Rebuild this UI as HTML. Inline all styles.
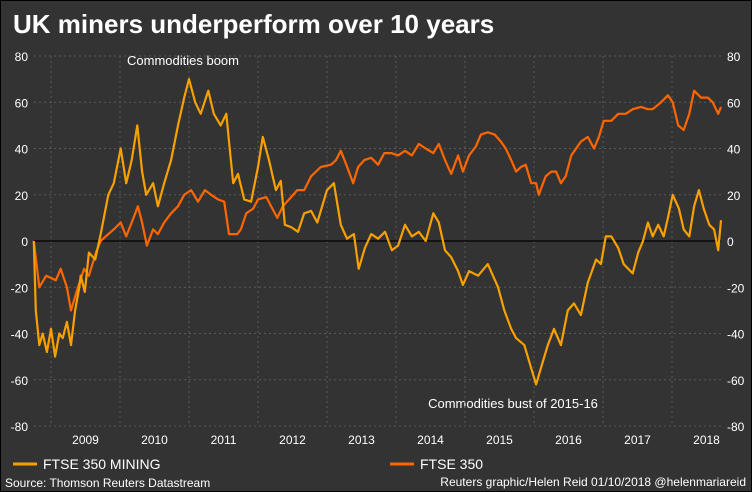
<!DOCTYPE html>
<html><head><meta charset="utf-8"><style>
body{margin:0;background:#000}
#wrap{position:relative;width:750px;height:490px;background:#333;border:1px solid #000;overflow:hidden;font-family:"Liberation Sans",sans-serif;color:#fff}
svg text{font-family:"Liberation Sans",sans-serif;fill:#fff}
</style></head><body>
<div id="wrap">
<svg id="chart" width="750" height="490">
<text x="12" y="32" font-size="26" font-weight="bold">UK miners underperform over 10 years</text>
<text x="182" y="64" font-size="13" text-anchor="middle">Commodities boom</text>
<text x="512" y="407" font-size="13" text-anchor="middle">Commodities bust of 2015-16</text>
<g id="grid"></g><g id="axes"></g><g id="series"></g>
<line x1="12" y1="463" x2="36" y2="463" stroke="#f7a000" stroke-width="3"/>
<text x="42" y="468" font-size="14">FTSE 350 MINING</text>
<line x1="389" y1="463" x2="413" y2="463" stroke="#ff6600" stroke-width="3"/>
<text x="419" y="468" font-size="14">FTSE 350</text>
<text x="4" y="486" font-size="12">Source: Thomson Reuters Datastream</text>
<text x="745" y="485" font-size="12" text-anchor="end">Reuters graphic/Helen Reid 01/10/2018 @helenmariareid</text>
</svg></div>
<script>
const yTicks=[80,60,40,20,0,-20,-40,-60,-80];
const years=[2009,2010,2011,2012,2013,2014,2015,2016,2017,2018];
const miningDates=[2008.75,2008.78,2008.83,2008.88,2008.94,2009.00,2009.06,2009.12,2009.17,2009.23,2009.29,2009.35,2009.41,2009.43,2009.49,2009.55,2009.64,2009.72,2009.83,2009.91,2010.01,2010.09,2010.17,2010.25,2010.32,2010.38,2010.48,2010.55,2010.64,2010.74,2010.84,2010.93,2011.00,2011.09,2011.17,2011.28,2011.36,2011.46,2011.54,2011.59,2011.64,2011.71,2011.80,2011.90,2012.00,2012.07,2012.16,2012.26,2012.33,2012.39,2012.48,2012.58,2012.67,2012.77,2012.86,2013.00,2013.10,2013.20,2013.29,2013.39,2013.46,2013.55,2013.64,2013.74,2013.84,2013.94,2014.03,2014.13,2014.23,2014.33,2014.43,2014.54,2014.62,2014.71,2014.80,2014.90,2014.97,2015.06,2015.19,2015.33,2015.48,2015.57,2015.67,2015.74,2015.86,2015.96,2016.03,2016.10,2016.20,2016.29,2016.39,2016.49,2016.58,2016.68,2016.78,2016.90,2016.97,2017.04,2017.12,2017.22,2017.30,2017.43,2017.51,2017.58,2017.65,2017.72,2017.80,2017.88,2017.94,2018.01,2018.10,2018.17,2018.25,2018.32,2018.39,2018.46,2018.54,2018.61,2018.67,2018.71];
const miningValues=[0,-30,-45,-40,-48,-38,-50,-40,-42,-35,-45,-30,-20,-15,-22,-5,-8,3,20,25,40,25,35,50,30,20,25,15,25,35,50,62,70,60,55,65,55,50,55,40,25,29,18,17,32,45,35,22,26,7,6,4,12,13,8,22,25,7,1,3,-12,-3,3,1,4,-4,-2,7,2,4,0,12,8,-4,-7,-13,-19,-13,-15,-10,-20,-30,-38,-42,-45,-55,-62,-55,-45,-38,-45,-30,-27,-32,-18,-8,-10,2,2,-3,-10,-14,-5,0,8,2,7,2,10,20,14,5,2,15,22,14,7,5,-4,9];
const ftseDates=[2008.75,2008.83,2008.93,2009.07,2009.14,2009.23,2009.29,2009.39,2009.48,2009.55,2009.65,2009.72,2009.83,2009.91,2010.01,2010.09,2010.17,2010.26,2010.32,2010.39,2010.48,2010.55,2010.64,2010.74,2010.84,2010.93,2011.03,2011.13,2011.23,2011.32,2011.42,2011.51,2011.58,2011.70,2011.75,2011.83,2011.93,2012.00,2012.12,2012.19,2012.28,2012.36,2012.48,2012.57,2012.67,2012.77,2012.91,2013.06,2013.13,2013.20,2013.28,2013.38,2013.45,2013.54,2013.64,2013.74,2013.83,2013.93,2014.03,2014.13,2014.23,2014.33,2014.43,2014.54,2014.62,2014.71,2014.80,2014.90,2014.97,2015.06,2015.16,2015.23,2015.33,2015.43,2015.52,2015.59,2015.67,2015.74,2015.81,2015.88,2015.96,2016.03,2016.07,2016.17,2016.25,2016.32,2016.39,2016.46,2016.54,2016.61,2016.68,2016.78,2016.87,2016.94,2017.01,2017.12,2017.22,2017.33,2017.43,2017.55,2017.65,2017.72,2017.84,2017.94,2018.01,2018.09,2018.17,2018.25,2018.32,2018.42,2018.52,2018.59,2018.67,2018.71];
const ftseValues=[0,-20,-15,-17,-12,-20,-30,-20,-12,-15,-5,0,3,5,8,2,8,15,8,-2,5,3,8,12,15,20,22,17,22,20,18,17,3,3,5,12,14,18,19,15,10,15,19,22,22,28,32,33,35,39,33,25,32,35,36,33,38,38,37,39,37,42,40,38,42,35,29,37,30,37,41,46,47,46,43,40,35,30,32,33,25,25,20,28,30,30,25,28,37,40,43,45,40,45,52,52,55,55,57,58,57,57,60,63,60,50,48,55,65,62,62,60,55,58];
const NS='http://www.w3.org/2000/svg';
function xS(t){return 50+(t-2009)*69;}
function yS(v){return 240-v*2.3125;}
function mk(tag,attrs,parent){const e=document.createElementNS(NS,tag);for(const k in attrs)e.setAttribute(k,attrs[k]);parent.appendChild(e);return e;}
const grid=document.getElementById('grid'),axes=document.getElementById('axes'),series=document.getElementById('series');
yTicks.forEach(v=>{
  const l=mk('line',{x1:33,x2:720,y1:yS(v),y2:yS(v),stroke:'#5a5a5a','stroke-dasharray':'2,3'},grid);
  
  
  const a=mk('text',{x:27,y:yS(v)+5,'font-size':12,'text-anchor':'end'},axes);a.textContent=v;
  
  
  const b=mk('text',{x:726,y:yS(v)+5,'font-size':12},axes);b.textContent=v;
  
  
});
years.forEach(y=>{
  const l=mk('line',{x1:xS(y),x2:xS(y),y1:yS(80),y2:yS(-80),stroke:'#5a5a5a','stroke-dasharray':'2,3'},grid);
  
  
  const t=mk('text',{x:xS(y+0.5),y:443,'font-size':12,'text-anchor':'middle'},axes);t.textContent=y;
  
  
});
const z=mk('line',{x1:33,x2:720,y1:yS(0),y2:yS(0),stroke:'#000','stroke-width':1.2},grid);


function pts(d,v){return d.map((t,i)=>xS(t).toFixed(1)+','+yS(v[i]).toFixed(1)).join(' ');}
const p1=mk('polyline',{points:pts(ftseDates,ftseValues),fill:'none',stroke:'#ff6600','stroke-width':2.2,'stroke-linejoin':'round'},series);


const p2=mk('polyline',{points:pts(miningDates,miningValues),fill:'none',stroke:'#f7a000','stroke-width':2.2,'stroke-linejoin':'round'},series);


</script></body></html>
